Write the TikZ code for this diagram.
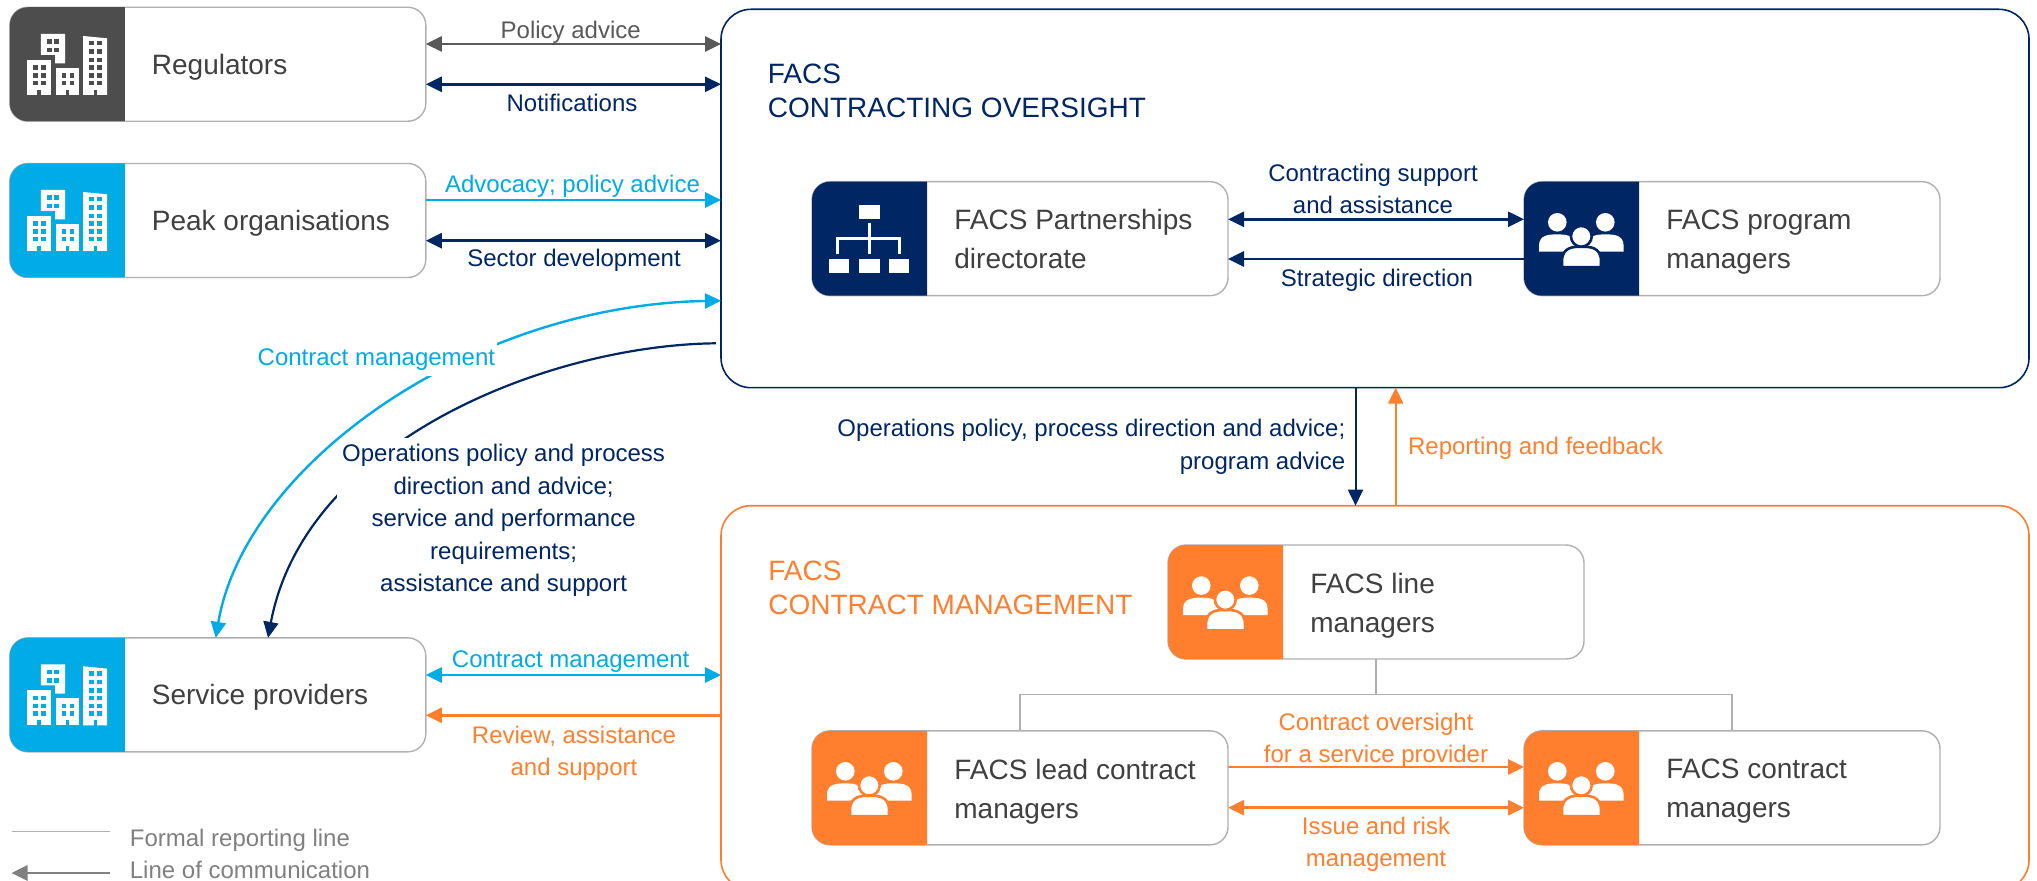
\documentclass[tikz,border=0pt]{standalone}
\usepackage{fontspec}
\setmainfont{Liberation Sans}
\usetikzlibrary{arrows.meta,calc}
\definecolor{navy}{HTML}{002664}
\definecolor{sky}{HTML}{00ABE6}
\definecolor{orng}{HTML}{FF7F2F}
\definecolor{dgray}{HTML}{4D4D4D}
\definecolor{agray}{HTML}{595959}
\definecolor{txtgray}{HTML}{404040}
\definecolor{bgray}{HTML}{B0B0B0}
\definecolor{lgray}{HTML}{808080}
\tikzset{
  smallbox/.style={draw=bgray,line width=0.7pt,rounded corners=9pt,fill=white,minimum width=208pt,minimum height=57pt,inner sep=0pt,outer sep=0pt},
  bigbox/.style={fill=white,rounded corners=15pt,line width=0.8pt,inner sep=0pt,outer sep=0pt,minimum width=654pt},
  struts/.style={execute at begin node={\strut},execute at end node={\strut}},
  boxtext/.style={anchor=west,align=left,inner sep=0pt,text=txtgray,font=\fontsize{14}{19.5}\selectfont,struts,yshift=-1pt},
  title/.style={anchor=west,align=left,inner sep=0pt,font=\fontsize{14}{17}\selectfont,struts,yshift=-1pt},
  lab/.style={align=center,inner sep=0pt,font=\fontsize{12}{16.2}\selectfont,struts,yshift=-0.9pt},
  conn/.style={line width=1.4pt,-{Triangle[length=8pt,width=7.5pt]}},
  both/.style={line width=1.4pt,{Triangle[length=8pt,width=7.5pt]}-{Triangle[length=8pt,width=7.5pt]}},
  thin conn/.style={line width=1.1pt,-{Triangle[length=8pt,width=7.5pt]}},
  report/.style={draw=bgray,line width=0.7pt},
}
% tile: node name, colour
\newcommand{\tilefill}[2]{%
  \begin{scope}
    \clip ([xshift=-1pt,yshift=-1pt]#1.south west) rectangle ([xshift=57.5pt,yshift=1pt]#1.north west);
    \fill[#2,rounded corners=9pt] (#1.south west) rectangle (#1.north east);
  \end{scope}}
\newcommand{\onewin}[3]{\fill[#3] (#1-2.2,#2-2.2) rectangle (#1+2.2,#2+2.2);}
\newcommand{\doorw}[2]{\fill[#2] (#1-1.8,95.2) rectangle (#1+1.8,90);}
\newcommand{\bldg}[2]{% x offset, y offset; colour in \tilecol
  \begin{scope}[shift={(#1,#2)}]
    \fill[white] (40.9,34) -- (65.2,34) -- (65.2,63.3) -- (55,63.3) -- (55,55) -- (40.9,55) -- cycle;
    \fill[white] (83.1,36) -- (107,38.3) -- (107,95) -- (83.1,95) -- cycle;
    \fill[white] (27.1,60) rectangle (51,95);
    \fill[white] (55.6,68) rectangle (79.4,95);
    \foreach \wy in {41.7,50}{\foreach \wx in {49.6,56.5}{\onewin{\wx}{\wy}{\tilecol}}}
    \foreach \wy in {43.3,51.7,60,67.7,75.7,83.3}{\foreach \wx in {91.4,99.6}{\onewin{\wx}{\wy}{\tilecol}}}
    \foreach \wy in {67.7,75.7,83.3}{\foreach \wx in {35.4,43.6}{\onewin{\wx}{\wy}{\tilecol}}}
    \foreach \wy in {75.7,83.3}{\foreach \wx in {63.8,72}{\onewin{\wx}{\wy}{\tilecol}}}
    \doorw{39}{\tilecol}\doorw{67.5}{\tilecol}\doorw{95.3}{\tilecol}
  \end{scope}}
\newcommand{\dome}[4]{% cx, half width, top, bottom
  (#1-#2,#4) -- (#1-#2,#4-6) .. controls (#1-#2,#3) and (#1-#2*0.4,#3) .. (#1,#3)
  .. controls (#1+#2*0.4,#3) and (#1+#2,#3) .. (#1+#2,#4-6) -- (#1+#2,#4) -- cycle}
\newcommand{\people}[3]{% x, y, colour
  \begin{scope}[shift={(#1,#2)}]
    \fill[white] (33.3,40.6) circle[radius=4.65pt];
    \fill[white] (81.3,40.6) circle[radius=4.65pt];
    \fill[white] \dome{33}{18}{52.7}{70};
    \fill[white] \dome{81.6}{18}{52.7}{70};
    \filldraw[fill=white,draw=#3,line width=1.3pt] \dome{57.5}{19.5}{65}{85.5};
    \filldraw[fill=white,draw=#3,line width=1.3pt] (57.3,54.6) circle[radius=5.2pt];
    \fill[#3] (36,84.5) rectangle (79,87);
  \end{scope}}
\newcommand{\orgchart}[2]{%
  \begin{scope}[shift={(#1,#2)}]
    \fill[white] (47.4,23.3) rectangle (67.8,37.6);
    \fill[white] (16.8,77.6) rectangle (37.2,91.6);
    \fill[white] (46.9,77.6) rectangle (67.8,91.6);
    \fill[white] (77,77.6) rectangle (96.9,91.6);
    \draw[white,line width=1.5pt] (57.6,41) -- (57.6,72.6);
    \draw[white,line width=1.5pt] (25.4,72.6) -- (25.4,57) -- (87.7,57) -- (87.7,72.6);
  \end{scope}}
\begin{document}
\begin{tikzpicture}[x=0.5pt,y=-0.5pt]
\useasboundingbox (0,0) rectangle (2037,881);
\clip (0,0) rectangle (2037,881);
% containers
\node[bigbox,draw=navy,minimum height=189.2pt] (over) at (1375,198.5) {};
\node[bigbox,draw=orng,minimum height=192.15pt] (mgmt) at (1375,697.85) {};
% small boxes
\node[smallbox] (reg)  at (217.8,64.25) {};
\node[smallbox] (peak) at (217.8,220.5) {};
\node[smallbox] (sp)   at (217.8,694.85) {};
\node[smallbox] (part) at (1020,238.7) {};
\node[smallbox] (prog) at (1732,238.7) {};
\node[smallbox] (line) at (1376,602) {};
\node[smallbox] (lead) at (1020,787.85) {};
\node[smallbox] (cman) at (1732,787.85) {};
% tiles and icons
\def\tilecol{dgray}\tilefill{reg}{dgray}\bldg{0}{0}
\def\tilecol{sky}\tilefill{peak}{sky}\bldg{0}{156}
\tilefill{sp}{sky}\bldg{0}{630.3}
\tilefill{part}{navy}\orgchart{812}{181.7}
\tilefill{prog}{navy}\people{1524}{181.7}{navy}
\tilefill{line}{orng}\people{1168}{545}{orng}
\tilefill{lead}{orng}\people{812}{730.7}{orng}
\tilefill{cman}{orng}\people{1524}{730.7}{orng}
% box texts
\node[boxtext] (regt)  at (151.5,64.25) {Regulators};
\node[boxtext] (peakt) at (151.5,220.5) {Peak organisations};
\node[boxtext] (spt)   at (151.5,694.85) {Service providers};
\node[boxtext] (partt) at (954,243.2) {FACS Partnerships\\directorate};
\node[boxtext] (progt) at (1666,243.2) {FACS program\\managers};
\node[boxtext] (linet) at (1310,606.5) {FACS line\\managers};
\node[boxtext] (leadt) at (954,792.35) {FACS lead contract\\managers};
\node[boxtext] (cmant) at (1666,792.35) {FACS contract\\managers};
% container titles
\node[title,text=navy] (overt) at (767.5,93.5) {FACS\\CONTRACTING OVERSIGHT};
\node[title,text=orng] (mgmtt) at (768,591) {FACS\\CONTRACT MANAGEMENT};
% reporting lines
\coordinate (rep) at (1376,694.7);
\draw[report] (line.south) -- (rep);
\draw[report] (lead.north) -- (lead.north |- rep) -- (cman.north |- rep) -- (cman.north);
% connectors, left column
\draw[both,agray] (reg.east |- 0,44) -- (over.west |- 0,44);
\draw[both,navy] (reg.east |- 0,84.3) -- (over.west |- 0,84.3);
\draw[conn,sky] (peak.east |- 0,200) -- (over.west |- 0,200);
\draw[both,navy] (peak.east |- 0,240.7) -- (over.west |- 0,240.7);
\draw[both,sky] (sp.east |- 0,675) -- (mgmt.west |- 0,675);
\draw[conn,orng] (mgmt.west |- 0,715.3) -- (sp.east |- 0,715.3);
% navy curve and its label
\coordinate (navystart) at ([xshift=-2.6pt]over.west |- 0,343.3);
\draw[thin conn,navy] (navystart) .. controls (550,345) and (305,440) .. (268,0 |- sp.north);
\node[lab,text=navy,fill=white,inner xsep=2.5pt,inner ysep=3pt] (l8) at (503.6,521) {Operations policy and process\\direction and advice;\\service and performance\\requirements;\\assistance and support};
% sky curve and its label
\draw[line width=1.2pt,sky,{Triangle[length=8pt,width=7.5pt]}-{Triangle[length=8pt,width=7.5pt]}]
  (215.7,0 |- sp.north) .. controls (245,465) and (470,305) .. (over.west |- 0,300.7);
\node[lab,text=sky,fill=white,inner xsep=1pt,inner ysep=0pt] (l7) at (376.4,357.7) {Contract management};
% inner connectors
\draw[both,navy] (part.east |- 0,219.3) -- (prog.west |- 0,219.3);
\draw[conn,navy] (prog.west |- 0,259) -- (part.east |- 0,259);
\draw[conn,orng] (lead.east |- 0,767) -- (cman.west |- 0,767);
\draw[both,orng] (lead.east |- 0,807.7) -- (cman.west |- 0,807.7);
\draw[line width=1pt,navy,-{Triangle[length=8pt,width=7.5pt]}] (1355.5,0 |- over.south) -- (1355.5,0 |- mgmt.north);
\draw[thin conn,orng] (1395.7,0 |- mgmt.north) -- (1395.7,0 |- over.south);
% labels
\node[lab,text=agray] (l1) at (570.7,30) {Policy advice};
\node[lab,text=navy] (l2) at (572,103) {Notifications};
\node[lab,text=sky] (l3) at (572.5,184) {Advocacy; policy advice};
\node[lab,text=navy] (l4) at (574,258.7) {Sector development};
\node[lab,text=sky] (l5) at (570.7,659) {Contract management};
\node[lab,text=orng] (l6) at (574,754) {Review, assistance\\and support};
\node[lab,text=navy] (l9) at (1373,192) {Contracting support\\and assistance};
\node[lab,text=navy] (l10) at (1377,278) {Strategic direction};
\node[lab,text=navy,align=right,anchor=east] (l11) at (1345.7,447.5) {Operations policy, process direction and advice;\\program advice};
\node[lab,text=orng,anchor=west] (l12) at (1407.7,446) {Reporting and feedback};
\node[lab,text=orng] (l13) at (1376,741) {Contract oversight\\for a service provider};
\node[lab,text=orng] (l14) at (1376,845) {Issue and risk\\management};
% legend
\coordinate (f1) at (11.5,831.3); \coordinate (f2) at (110,831.3);
\coordinate (c1) at (110,873); \coordinate (c2) at (11.5,873);
\draw[report] (f1) -- (f2);
\draw[conn,lgray] (c1) -- (c2);
\node[lab,text=lgray,anchor=west] (lg1) at (129.5,838.3) {Formal reporting line};
\node[lab,text=lgray,anchor=west] (lg2) at (129.5,870) {Line of communication};
\end{tikzpicture}
\end{document}
